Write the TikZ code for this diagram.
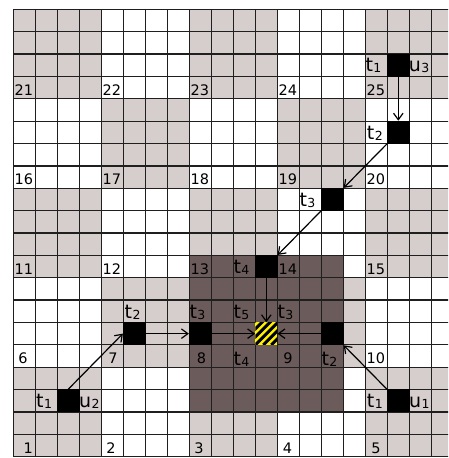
\documentclass[tikz,border=0pt]{standalone}
\usepackage{fontspec}
\setmainfont{DejaVu Sans}
\usetikzlibrary{arrows.meta}
\definecolor{lightcell}{RGB}{214,205,205}
\definecolor{darkcell}{RGB}{108,91,91}
\definecolor{hazard}{RGB}{255,242,0}
\newcommand\tsub[2]{{\fontsize{19}{19}\selectfont #1}\kern0.5pt\raisebox{-1pt}{\fontsize{12.5}{12.5}\selectfont #2}}
\begin{document}
\begin{tikzpicture}[x=1pt,y=-1pt,
  gridline/.style={line width=1.25pt,draw=black!88},
  blk/.style={fill=black,inner sep=0pt,minimum width=22.4pt,minimum height=22.8pt},
  goal/.style={fill=hazard,inner sep=0pt,minimum width=22pt,minimum height=22.37pt,
    path picture={\foreach \k in {-32,-24,...,24}{\draw[line width=3pt,black]
      ([xshift=\k pt]path picture bounding box.south west) -- ++(34pt,34pt);}}},
  arr/.style={line width=1.2pt,-{Straight Barb[length=6.5pt,width=9.5pt]}},
  numlab/.style={anchor=base west,inner sep=0pt,font=\fontsize{14.5}{14.5}\selectfont},
  numlabc/.style={anchor=base,inner sep=0pt,font=\fontsize{14.5}{14.5}\selectfont},
  tlab/.style={anchor=base west,inner sep=0pt}]
\useasboundingbox (0,0) rectangle (448,458);
\fill[white] (0,0) rectangle (448,458);
\begin{scope}
\clip (0,0) rectangle (448,458);
\begin{scope}[shift={(13.3pt,-9.3pt)},x=22pt,y=-22.37pt]
  % checkerboard blocks
  \fill[lightcell] (0,0) rectangle (4,4);
  \fill[lightcell] (8,0) rectangle (12,4);
  \fill[lightcell] (16,0) rectangle (20,4);
  \fill[lightcell] (4,4) rectangle (8,8);
  \fill[lightcell] (12,4) rectangle (16,8);
  \fill[lightcell] (0,8) rectangle (4,12);
  \fill[lightcell] (8,8) rectangle (12,12);
  \fill[lightcell] (16,8) rectangle (20,12);
  \fill[lightcell] (4,12) rectangle (8,16);
  \fill[lightcell] (12,12) rectangle (16,16);
  \fill[lightcell] (0,16) rectangle (4,20);
  \fill[lightcell] (8,16) rectangle (12,20);
  \fill[lightcell] (16,16) rectangle (20,20);
  % dark region
  \fill[darkcell] (8,11) rectangle (15,18);
  % grid
  \foreach \i in {0,...,20}{
    \draw[gridline] (\i,0) -- (\i,20);
    \draw[gridline] (0,\i) -- (20,\i);
  }
  % squares
  \node[blk] (u3) at (17.5,2.5) {};
  \node[blk] (t2a) at (17.5,5.5) {};
  \node[blk] (t3a) at (14.5,8.5) {};
  \node[blk] (t4a) at (11.5,11.5) {};
  \node[goal] (g) at (11.5,14.5) {};
  \node[blk] (t3b) at (8.5,14.5) {};
  \node[blk] (t2b) at (5.5,14.5) {};
  \node[blk] (t2c) at (14.5,14.5) {};
  \node[blk] (u1) at (17.5,17.5) {};
  \node[blk] (u2) at (2.5,17.5) {};
  % arrows
  \draw[arr] (u3.south) -- (t2a.north);
  \draw[arr] (t2a.south west) -- (t3a.north east);
  \draw[arr] (t3a.south west) -- (t4a.north east);
  \draw[arr] (t4a.south) -- (g.north);
  \draw[arr] (t2b.east) -- (t3b.west);
  \draw[arr] (t3b.east) -- (g.west);
  \draw[arr] (t2c.west) -- (g.east);
  \draw[arr] (u1.north west) -- (t2c.south east);
  \draw[arr] (u2.north) -- (t2b.west);
  % t/u labels
  \node[tlab] (lt1a) at (16.0,2.8) {\tsub{t}{1}};
  \node[tlab] (lu3) at (17.97,2.8) {\tsub{u}{3}};
  \node[tlab] (lt2a) at (16.06,5.8) {\tsub{t}{2}};
  \node[tlab] (lt3a) at (13.0,8.8) {\tsub{t}{3}};
  \node[tlab] (lt4a) at (10.0,11.8) {\tsub{t}{4}};
  \node[tlab] (lt5) at (10.0,13.82) {\tsub{t}{5}};
  \node[tlab] (lt3c) at (12.0,13.82) {\tsub{t}{3}};
  \node[tlab] (lt3b) at (8.0,13.82) {\tsub{t}{3}};
  \node[tlab] (lt4b) at (10.0,15.93) {\tsub{t}{4}};
  \node[tlab] (lt2c) at (14.0,15.93) {\tsub{t}{2}};
  \node[tlab] (lt2b) at (5.05,13.82) {\tsub{t}{2}};
  \node[tlab] (lt1b) at (1.03,17.8) {\tsub{t}{1}};
  \node[tlab] (lu2) at (2.98,17.8) {\tsub{u}{2}};
  \node[tlab] (lt1c) at (16.06,17.8) {\tsub{t}{1}};
  \node[tlab] (lu1) at (17.98,17.8) {\tsub{u}{1}};
  % block numbers
  \node[numlab] (n21) at (0.05,3.85) {21};
  \node[numlab] (n22) at (4.05,3.85) {22};
  \node[numlab] (n23) at (8.05,3.85) {23};
  \node[numlab] (n24) at (12.05,3.85) {24};
  \node[numlab] (n25) at (16.05,3.85) {25};
  \node[numlab] (n16) at (0.05,7.85) {16};
  \node[numlab] (n17) at (4.05,7.85) {17};
  \node[numlab] (n18) at (8.05,7.85) {18};
  \node[numlab] (n19) at (12.05,7.85) {19};
  \node[numlab] (n20) at (16.05,7.85) {20};
  \node[numlab] (n11) at (0.05,11.85) {11};
  \node[numlab] (n12) at (4.05,11.85) {12};
  \node[numlab] (n13) at (8.05,11.85) {13};
  \node[numlab] (n14) at (12.05,11.85) {14};
  \node[numlab] (n15) at (16.05,11.85) {15};
  \node[numlabc] (n6) at (0.44,15.85) {6};
  \node[numlabc] (n7) at (4.53,15.85) {7};
  \node[numlabc] (n8) at (8.55,15.85) {8};
  \node[numlabc] (n9) at (12.49,15.85) {9};
  \node[numlab] (n10) at (16.05,15.85) {10};
  \node[numlabc] (n1) at (0.68,19.85) {1};
  \node[numlabc] (n2) at (4.44,19.85) {2};
  \node[numlabc] (n3) at (8.44,19.85) {3};
  \node[numlabc] (n4) at (12.46,19.85) {4};
  \node[numlabc] (n5) at (16.49,19.85) {5};
\end{scope}
\end{scope}
\end{tikzpicture}
\end{document}
